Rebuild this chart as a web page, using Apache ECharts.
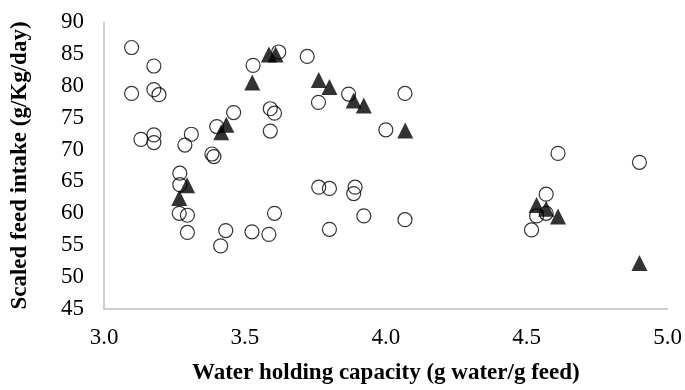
<!DOCTYPE html>
<html>
<head>
<meta charset="utf-8">
<script src="https://cdn.jsdelivr.net/npm/echarts@6/dist/echarts.min.js"></script>
<style>html,body{margin:0;padding:0;background:#fff;}#c{width:685px;height:390px;}</style>
</head>
<body>
<div id="c"></div>
<script>
var circleX = [3.098,3.177,3.098,3.177,3.195,3.529,3.46,3.40,3.59,3.605,3.59,3.131,3.177,3.177,3.31,3.287,3.383,3.39,3.62,3.721,3.868,3.761,4.068,4.0,3.269,3.269,3.267,3.296,3.296,3.432,3.414,3.525,3.585,3.605,3.762,3.80,3.891,3.886,3.80,3.922,4.068,4.611,4.90,4.569,4.535,4.569,4.517];
var circleY = [86.0,83.1,78.8,79.4,78.6,83.2,75.8,73.6,76.4,75.7,72.9,71.6,72.3,71.1,72.4,70.7,69.3,68.9,85.3,84.6,78.7,77.4,78.8,73.1,66.3,64.5,60.0,59.7,57.0,57.3,54.9,57.1,56.7,60.0,64.1,63.9,64.1,63.1,57.5,59.6,59.0,69.4,68.0,63.0,59.6,60.0,57.4];
var triX = [3.585,3.609,3.526,3.434,3.416,3.762,3.80,3.886,3.922,4.069,3.295,3.267,4.535,4.569,4.611,4.90];
var triY = [84.9,84.9,80.5,73.9,72.7,80.9,79.8,77.7,76.9,73.0,64.4,62.4,61.3,60.7,59.5,52.2];
var xTitle = 'Water holding capacity (g water/g feed)';
var yTitle = 'Scaled feed intake (g/Kg/day)';

function pairs(xs, ys){ return xs.map(function(x,i){ return [x, ys[i]]; }); }

var chart = echarts.init(document.getElementById('c'), null, {renderer:'canvas'});
var font = '"Liberation Serif","Times New Roman",serif';
chart.setOption({
  animation:false,
  backgroundColor:'#fff',
  grid:{left:104,right:16,top:22,bottom:77,containLabel:false},
  xAxis:{
    type:'value',min:3.0,max:5.0,interval:0.5,
    name:xTitle,nameLocation:'middle',nameGap:53,
    nameTextStyle:{fontFamily:font,fontWeight:'bold',fontSize:23,color:'#000'},
    axisLine:{show:true,lineStyle:{color:'#bfbfbf',width:1.5}},
    axisTick:{show:false},splitLine:{show:false},
    axisLabel:{fontFamily:font,fontSize:23,color:'#000',margin:17,formatter:function(v){return v.toFixed(1);}}
  },
  yAxis:{
    type:'value',min:45,max:90,interval:5,
    name:yTitle,nameLocation:'middle',nameGap:72,nameRotate:90,
    nameTextStyle:{fontFamily:font,fontWeight:'bold',fontSize:23,color:'#000'},
    axisLine:{show:true,lineStyle:{color:'#bfbfbf',width:1.5}},
    axisTick:{show:false},splitLine:{show:false},
    axisLabel:{fontFamily:font,fontSize:23,color:'#000',margin:20}
  },
  series:[
    {type:'scatter',symbol:'circle',symbolSize:14,data:pairs(circleX,circleY),
     itemStyle:{color:'rgba(255,255,255,0)',borderColor:'#000',borderWidth:1.2}},
    {type:'scatter',symbol:'triangle',symbolSize:16,data:pairs(triX,triY),
     itemStyle:{color:'#000',borderColor:'#000',borderWidth:0}}
  ]
});
</script>
</body>
</html>
